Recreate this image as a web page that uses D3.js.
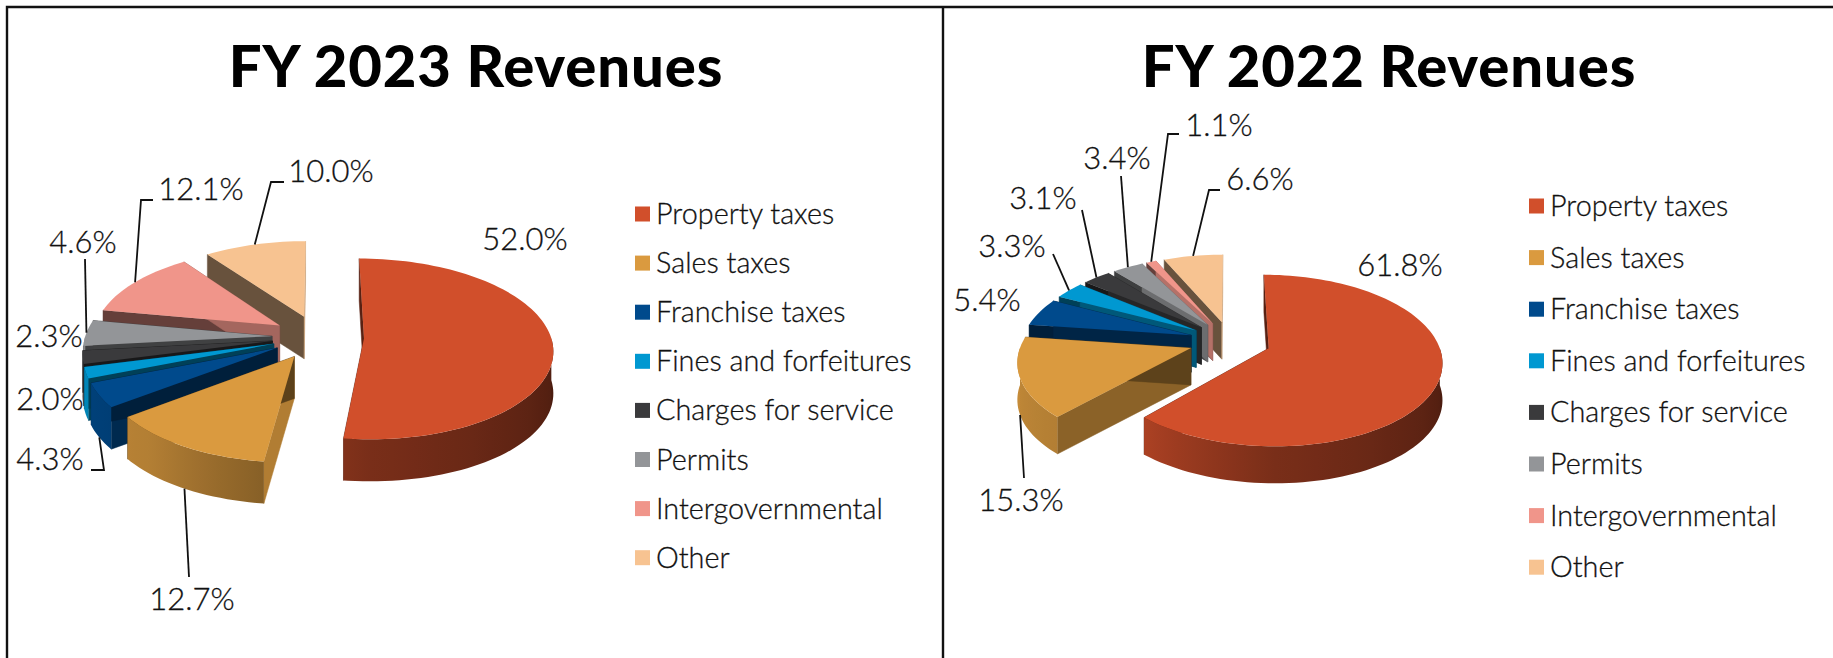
<!DOCTYPE html>
<html>
<head>
<meta charset="utf-8">
<script src="https://cdn.jsdelivr.net/npm/d3@7"></script>
<style>
    html, body { margin: 0; padding: 0; background: #fff; }
    svg { display: block; }
    text { font-family: "Lato", "Open Sans", sans-serif; fill: #111; }
    text.thin { stroke: #111; stroke-width: 0.3px; }
</style>
</head>
<body>
<svg id="chart" width="1833" height="658"></svg>
<script>
const categories = ["Property taxes", "Sales taxes", "Franchise taxes", "Fines and forfeitures",
    "Charges for service", "Permits", "Intergovernmental", "Other"];
const colors = ["#D14F2B", "#DA9A3F", "#004A8C", "#0098D1", "#3A3A3C", "#939598", "#F0958A", "#F7C391"];

const values_2023 = [52.0, 12.7, 4.3, 2.0, 2.3, 4.6, 12.1, 10.0];
const values_2022 = [61.8, 15.3, 5.4, 3.3, 3.1, 3.4, 1.1, 6.6];

const titles = ["FY 2023 Revenues", "FY 2022 Revenues"];

// label centres, and the leader stub that runs from the label to the slice rim
const labels_2023 = [
    {at: [525, 239]},
    {at: [192, 599], stub: [[189, 577]]},
    {at: [50, 459], stub: [[91, 470], [104, 470]]},
    {at: [50, 399]},
    {at: [49, 336]},
    {at: [83, 242], stub: [[85, 259]]},
    {at: [201, 189], stub: [[153, 200], [141, 200]]},
    {at: [331, 171], stub: [[284, 182], [271, 182]]}
];
const labels_2022 = [
    {at: [1400, 265]},
    {at: [1021, 500], stub: [[1024, 478]]},
    {at: [987, 300]},
    {at: [1012, 246], stub: [[1053, 254]]},
    {at: [1043, 198], stub: [[1082, 210]]},
    {at: [1117, 158], stub: [[1121, 176]]},
    {at: [1219, 125], stub: [[1179, 134], [1168, 134]]},
    {at: [1260, 179], stub: [[1220, 190], [1209, 190]]}
];

const panels = [
    {id: "a", title: titles[0], title_x: 476, values: values_2023, labels: labels_2023,
     cx: 318, cy: 337, r: 187, explode: 46, tilt: 0.475, persp: 1600, depth: 42,
     legend_x: 635, legend_y: 214, legend_step: 49.1},
    {id: "b", title: titles[1], title_x: 1389, values: values_2022, labels: labels_2022,
     cx: 1230, cy: 341, r: 169, explode: 41, tilt: 0.485, persp: 1200, depth: 37,
     legend_x: 1529, legend_y: 206, legend_step: 51.6}
];

const svg = d3.select("#chart");
const defs = svg.append("defs");

// frame
svg.append("path")
    .attr("d", "M7,658V7H1833M943,7V658")
    .attr("fill", "none")
    .attr("stroke", "#111")
    .attr("stroke-width", 2.4);

// shade of the outer wall by compass direction of its normal (deg clockwise from back)
const wall_shade = d3.scaleLinear().domain([90, 100, 180, 222, 280]).range([0.36, 0.37, 0.58, 0.82, 0.92]);
const arc_step = Math.PI / 90;

function draw_panel(p) {
    const g = svg.append("g");

    g.append("text")
        .attr("x", p.title_x)
        .attr("y", 87)
        .attr("text-anchor", "middle")
        .style("font-size", "58px")
        .style("font-weight", 900)
        .style("letter-spacing", "0.9px")
        .style("fill", "#000")
        .text(p.title);

    const project = (X, Y) => {
        const s = 1 / (1 - Y / p.persp);
        return [p.cx + X * s, p.cy + p.tilt * Y * s];
    };

    const arcs = d3.pie().sort(null)(p.values);
    arcs.forEach(a => {
        a.mid = (a.startAngle + a.endAngle) / 2;
        a.ox = Math.sin(a.mid) * p.explode;
        a.oy = -Math.cos(a.mid) * p.explode;
        a.rim = t => project(a.ox + Math.sin(t) * p.r, a.oy - Math.cos(t) * p.r);
        a.apex = project(a.ox, a.oy);
    });

    const line = d3.line();
    const down = pt => [pt[0], pt[1] + p.depth];

    const slices = g.selectAll("g.slice")
        .data(arcs.slice().sort((a, b) => a.oy - b.oy))
        .enter().append("g")
        .attr("class", "slice");

    slices.each(function(a) {
        const sel = d3.select(this);
        const base = d3.color(colors[a.index]);
        const shade = k => d3.rgb(base.r * k, base.g * k, base.b * k).formatHex();

        // cut faces
        [[a.startAngle, -1], [a.endAngle, 1]].forEach(([t, side]) => {
            const nx = Math.sin(t + side * Math.PI / 2);
            const k = 0.42 + 0.4 * Math.pow(Math.max(0, nx), 2);
            const tip = a.rim(t);
            sel.append("path")
                .attr("d", line([a.apex, tip, down(tip), down(a.apex)]) + "Z")
                .attr("fill", shade(k))
                .attr("stroke", shade(k))
                .attr("stroke-width", 0.5);
        });

        // outer wall, only the part that faces the viewer
        const w0 = Math.max(a.startAngle, Math.PI / 2);
        const w1 = Math.min(a.endAngle, 3 * Math.PI / 2);
        if (w1 > w0) {
            const wall = d3.range(w0, w1, arc_step).concat(w1);
            const top = wall.map(a.rim);
            const x0 = top[0][0], x1 = top[top.length - 1][0];
            const grad_id = `wall_${p.id}_${a.index}`;
            defs.append("linearGradient")
                .attr("id", grad_id)
                .attr("gradientUnits", "userSpaceOnUse")
                .attr("x1", x0).attr("x2", x1)
                .attr("y1", 0).attr("y2", 0)
                .selectAll("stop")
                .data(wall.filter((t, i) => i % 3 === 0 || i === wall.length - 1))
                .enter().append("stop")
                .attr("offset", t => (a.rim(t)[0] - x0) / (x1 - x0))
                .attr("stop-color", t => shade(wall_shade(t * 180 / Math.PI)));
            sel.append("path")
                .attr("d", line(top.concat(top.map(down).reverse())) + "Z")
                .attr("fill", `url(#${grad_id})`);
        }

        // top face
        const angles = d3.range(a.startAngle, a.endAngle, arc_step).concat(a.endAngle);
        sel.append("path")
            .attr("d", line([a.apex].concat(angles.map(a.rim))) + "Z")
            .attr("fill", colors[a.index]);
    });

    // leaders and value labels
    arcs.forEach(a => {
        const lab = p.labels[a.index];
        if (lab.stub) {
            const front = Math.cos(a.mid) < 0;
            const tip = front ? down(a.rim(a.mid)) : a.rim(a.mid);
            g.append("path")
                .attr("d", line(lab.stub.concat([tip])))
                .attr("fill", "none")
                .attr("stroke", "#111")
                .attr("stroke-width", 1.8);
        }
        g.append("text")
            .attr("class", "thin")
            .attr("x", lab.at[0])
            .attr("y", lab.at[1])
            .attr("dy", "0.36em")
            .attr("text-anchor", "middle")
            .style("font-size", "31px")
            .style("font-weight", 300)
            .text(d3.format(".1f")(p.values[a.index]) + "%");
    });

    // legend
    const legend = g.selectAll("g.legend")
        .data(categories)
        .enter().append("g")
        .attr("class", "legend")
        .attr("transform", (d, i) => `translate(${p.legend_x},${p.legend_y + i * p.legend_step})`);
    legend.append("rect")
        .attr("y", -7.5)
        .attr("width", 15)
        .attr("height", 15)
        .attr("fill", (d, i) => colors[i]);
    legend.append("text")
        .attr("class", "thin")
        .attr("x", 21)
        .attr("dy", "0.35em")
        .style("font-size", "28.8px")
        .style("font-weight", 300)
        .text(d => d);
}

panels.forEach(draw_panel);
</script>
</body>
</html>
